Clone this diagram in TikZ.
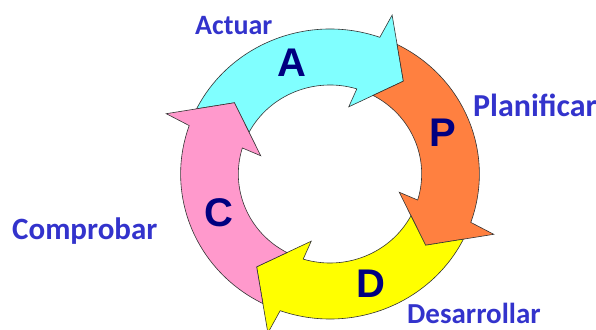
\documentclass[tikz,border=0pt]{standalone}
\usepackage{fontspec}
\newfontfamily\labfont{Carlito}
\newfontfamily\letfont{Liberation Sans}
\usetikzlibrary{calc}
\definecolor{acol}{RGB}{128,255,255}
\definecolor{pcol}{RGB}{255,128,64}
\definecolor{dcol}{RGB}{255,255,0}
\definecolor{ccol}{RGB}{255,153,204}
\definecolor{navy}{RGB}{0,0,128}
\definecolor{lblue}{RGB}{51,51,204}
\newcommand\cyclearrow[3]{% name, rotation, colour
\begin{scope}[shift={(O)},xscale=1.03,rotate=#2]
 \coordinate (#1T) at (52.5:\Rm);
 \coordinate (#1Qo) at (63.3:\Ro);
 \coordinate (#1Qi) at (62:\Ri);
 \coordinate (#1Bo) at ($(#1T)!1.8!(#1Qo)$);
 \coordinate (#1Bi) at ($(#1T)!1.8!(#1Qi)$);
 \coordinate (#1Po) at (153.3:\Ro);
 \coordinate (#1PT) at (142.5:\Rm);
 \path[seg, fill=#3] (#1Po) arc[start angle=153.3, end angle=70.5, radius=\Ro]
   -- (#1Bo) -- (#1T) -- (#1Bi) -- (73:\Ri)
   arc[start angle=73, end angle=152, radius=\Ri] -- (#1PT) -- cycle;
\end{scope}}
\begin{document}
\begin{tikzpicture}[x=1pt,y=1pt,
  seg/.style={draw=black!80, line width=0.6pt, line join=miter},
  lbl/.style={anchor=base west, inner sep=0, text=lblue},
  ltr/.style={inner sep=0, text=navy, font=\letfont\bfseries\fontsize{40}{40}\selectfont}]
\useasboundingbox (0,0) rectangle (596,329);
\coordinate (O) at (330,155);
\def\Ri{89}\def\Ro{145}\def\Rm{117}
\cyclearrow{a}{0}{acol}
\cyclearrow{p}{-90}{pcol}
\cyclearrow{d}{-180}{dcol}
\cyclearrow{c}{90}{ccol}
\node[ltr] (lA) at (292,266.5) {A};
\node[ltr] (lP) at (443,196) {P};
\node[ltr] (lC) at (218.5,116.5) {C};
\node[ltr] (lD) at (370.5,45) {D};
\node[lbl, font=\labfont\bfseries\fontsize{28}{28}\selectfont] (tA) at (195,294) {Actuar};
\node[lbl, font=\labfont\bfseries\fontsize{32}{32}\selectfont] (tP) at (473,212) {Planificar};
\node[lbl, font=\labfont\bfseries\fontsize{31}{31}\selectfont] (tC) at (12,89) {Comprobar};
\node[lbl, font=\labfont\bfseries\fontsize{29}{29}\selectfont] (tD) at (407,6) {Desarrollar};
\end{tikzpicture}
\end{document}
